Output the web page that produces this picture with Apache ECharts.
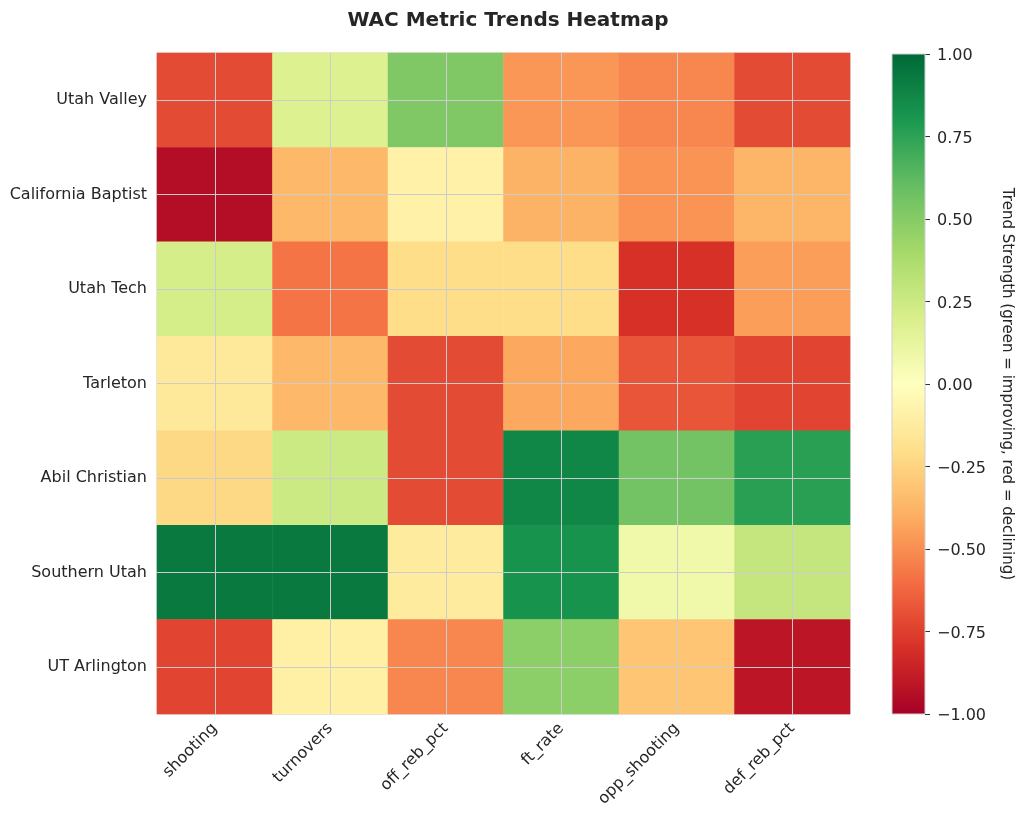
<!DOCTYPE html>
<html>
<head>
<meta charset="utf-8">
<script src="https://cdn.jsdelivr.net/npm/echarts@6/dist/echarts.min.js"></script>
<style>html,body{margin:0;padding:0;background:#fff;}#c{width:1024px;height:822px;}</style>
</head>
<body>
<div id="c"></div>
<script>
const metrics = ['shooting', 'turnovers', 'off_reb_pct', 'ft_rate', 'opp_shooting', 'def_reb_pct'];
const teams = ['Utah Valley', 'California Baptist', 'Utah Tech', 'Tarleton', 'Abil Christian', 'Southern Utah', 'UT Arlington'];
const utahValley        = [-0.71,  0.18,  0.52, -0.47, -0.52, -0.71];
const californiaBaptist = [-0.94, -0.36, -0.09, -0.38, -0.48, -0.37];
const utahTech          = [ 0.21, -0.58, -0.21, -0.21, -0.80, -0.45];
const tarleton          = [-0.14, -0.36, -0.71, -0.42, -0.68, -0.73];
const abilChristian     = [-0.23,  0.25, -0.71,  0.875, 0.56,  0.76];
const southernUtah      = [ 0.93,  0.93, -0.13,  0.82,  0.08,  0.28];
const utArlington       = [-0.73, -0.10, -0.52,  0.48, -0.31, -0.91];
const rows = [utahValley, californiaBaptist, utahTech, tarleton, abilChristian, southernUtah, utArlington];
const rdYlGn = ['#a50026','#d73027','#f46d43','#fdae61','#fee08b','#ffffbf','#d9ef8b','#a6d96a','#66bd63','#1a9850','#006837'];

const data = [];
rows.forEach((r, yi) => r.forEach((v, xi) => data.push([xi, yi, v])));

const font = 'DejaVu Sans';
const txt = '#262626';
const cb = {left: 892, top: 54, width: 33, height: 660};
const stops = rdYlGn.slice().reverse().map((c, i) => ({offset: i / (rdYlGn.length - 1), color: c}));

const chart = echarts.init(document.getElementById('c'), null, {renderer: 'canvas'});
chart.setOption({
  animation: false,
  backgroundColor: '#ffffff',
  title: {
    text: 'WAC Metric Trends Heatmap',
    left: 503, top: 6, textAlign: 'center',
    textStyle: {fontFamily: font, fontWeight: 'bold', fontSize: 20, color: txt}
  },
  grid: [
    {left: 157, top: 53, width: 693, height: 661, show: true, borderColor: '#cccccc', borderWidth: 1},
    {left: cb.left, top: cb.top, width: cb.width, height: cb.height, show: false}
  ],
  graphic: [{
    type: 'rect', z: 1,
    shape: {x: cb.left, y: cb.top, width: cb.width, height: cb.height},
    style: {
      fill: new echarts.graphic.LinearGradient(0, 0, 0, 1, stops),
      stroke: '#d0d0d0', lineWidth: 1
    }
  }],
  xAxis: [
    {
      type: 'category', data: metrics, gridIndex: 0, z: 5,
      axisLine: {show: false}, axisTick: {show: false},
      splitLine: {show: true, alignWithLabel: true, lineStyle: {color: '#cccccc', width: 1}},
      axisLabel: {rotate: 45, margin: 12, fontFamily: font, fontSize: 16, color: txt}
    },
    {type: 'category', data: [''], gridIndex: 1, show: false,
     axisLine: {show: false, onZero: false}, axisTick: {show: false}, axisLabel: {show: false}, splitLine: {show: false}}
  ],
  yAxis: [
    {
      type: 'category', data: teams, inverse: true, gridIndex: 0, z: 5,
      axisLine: {show: false}, axisTick: {show: false},
      splitLine: {show: true, alignWithLabel: true, lineStyle: {color: '#cccccc', width: 1}},
      axisLabel: {margin: 10, fontFamily: font, fontSize: 16, color: txt}
    },
    {
      type: 'value', gridIndex: 1, position: 'right', min: -1, max: 1, interval: 0.25,
      axisLine: {show: false, onZero: false},
      axisTick: {show: true, length: 5, lineStyle: {color: '#333333'}},
      splitLine: {show: false},
      axisLabel: {margin: 12,
        formatter: v => '{a|' + (v < 0 ? '\u2212' : '') + Math.abs(v).toFixed(2) + '}',
        rich: {a: {padding: [4, 0, 0, 0], fontFamily: font, fontSize: 16, color: txt}}},
      name: 'Trend Strength (green = improving, red = declining)',
      nameLocation: 'middle', nameRotate: -90, nameGap: 74,
      nameTextStyle: {fontFamily: font, fontSize: 15, color: txt}
    }
  ],
  visualMap: {
    type: 'continuous', min: -1, max: 1, show: false, seriesIndex: 0,
    inRange: {color: rdYlGn}
  },
  series: [{
    type: 'heatmap', xAxisIndex: 0, yAxisIndex: 0, data: data,
    itemStyle: {borderWidth: 0},
    emphasis: {disabled: true}
  }]
});
</script>
</body>
</html>
